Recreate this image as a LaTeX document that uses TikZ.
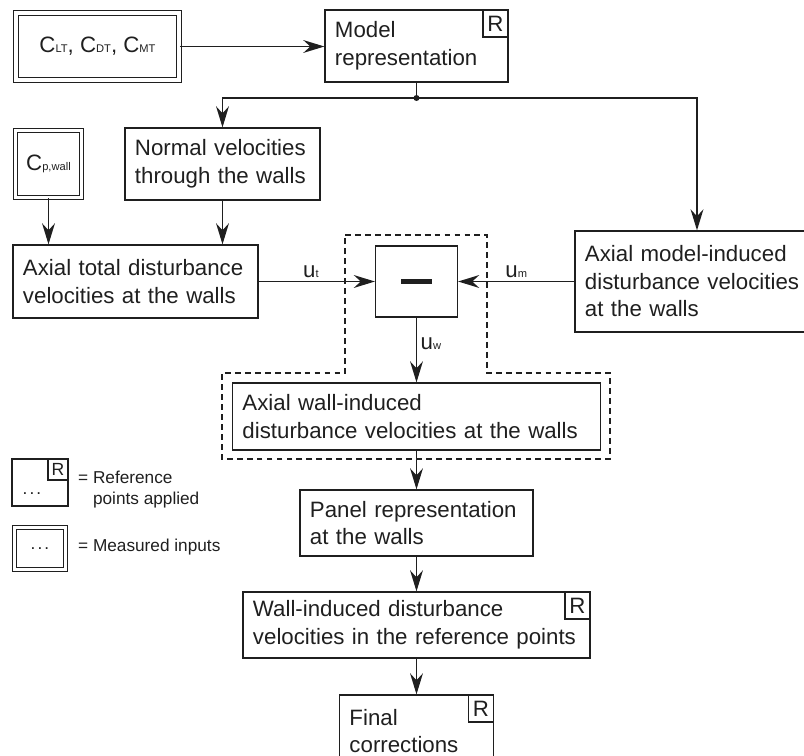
\documentclass[tikz,border=0pt]{standalone}
\usepackage{fontspec}
\setmainfont{Liberation Sans}
\usepackage{tikz}
\usetikzlibrary{positioning,arrows.meta,calc}
\definecolor{ink}{rgb}{0.12,0.12,0.12}
\newcommand{\lo}[1]{{\fontsize{9.5}{9.5}\selectfont #1}}
\newcommand{\legdots}{.\hspace{1.8pt}.\hspace{1.8pt}.}
\tikzset{
  every node/.style={font=\fontsize{19}{23.5}\selectfont, text=ink},
  blk/.style={draw=ink, line width=1.1pt, rectangle, align=left, inner xsep=0.3cm, inner ysep=0.1cm},
  meas/.style={draw=ink, line width=0.95pt, double, double distance=3.1pt, rectangle, inner sep=0pt},
  rbox/.style={draw=ink, line width=1.1pt, minimum width=0.75cm, minimum height=0.81cm, inner sep=0pt, anchor=north east},
  flow/.style={draw=ink, line width=1.1pt, -{Stealth[length=18pt,width=11pt,inset=6pt]}},
  wire/.style={draw=ink, line width=1.1pt},
  grp/.style={draw=ink, line width=1.1pt, dash pattern=on 5pt off 3.5pt},
  legtxt/.style={font=\fontsize{14.7}{18}\selectfont, align=left, anchor=west, inner sep=0pt},
}

\begin{document}
\begin{tikzpicture}[x=0.03cm, y=-0.03cm]
    \useasboundingbox (0,0) rectangle (804,756);
    % inputs
    \node[meas, minimum width=4.905cm, minimum height=2.01cm] (clt) at (97.5,46.5) {C\lo{LT}, C\lo{DT}, C\lo{MT}};
    \node[meas, minimum width=1.98cm, minimum height=2.01cm] (cpw) at (48.5,164) {C\lo{p,wall}};
    % process boxes
    \node[blk, text width=4.89cm, minimum height=2.16cm] (model) at (416.5,46) {Model\\representation};
    \node[rbox] (modelR) at (model.north east) {R};
    \node[blk, text width=5.25cm, minimum height=2.16cm] (normal) at (222.5,164) {Normal velocities\\through the walls};
    \node[blk, text width=6.75cm, minimum height=2.19cm] (total) at (135.5,281.5) {Axial total disturbance\\velocities at the walls};
    \node[blk, minimum width=2.46cm, minimum height=2.13cm] (minus) at (416.5,281.5) {\rule{0.93cm}{4pt}};
    \node[blk, text width=6.72cm, minimum height=3.03cm] (modelind) at (697,281.5) {Axial model-induced\\disturbance velocities\\at the walls};
    \node[blk, text width=10.44cm, minimum height=2.01cm] (wall) at (416.5,416.5) {Axial wall-induced\\disturbance velocities at the walls};
    \node[blk, text width=6.39cm, minimum height=1.98cm] (panel) at (416.5,523) {Panel representation\\at the walls};
    \node[blk, text width=9.81cm, minimum height=1.98cm] (wallref) at (416.5,625) {Wall-induced disturbance\\velocities in the reference points};
    \node[rbox] (wallrefR) at (wallref.north east) {R};
    \node[blk, text width=4.02cm, minimum height=2.16cm] (final) at (416.5,731) {Final\\corrections};
    \node[rbox] (finalR) at (final.north east) {R};

    % dashed group round the subtraction
    \draw[grp] (345,235) -- (487,235) -- (487,373) -- (610,373) -- (610,459)
        -- (222,459) -- (222,373) -- (345,373) -- cycle;

    % connectors
    \coordinate (split) at (416.5,98);
    \draw[flow] (clt.east) -- (clt.east -| model.west);
    \draw[wire] (model.south) -- (split);
    \fill[ink] (split) circle (3);
    \draw[flow] (split) -| (normal.north);
    \draw[flow] (split) -| (modelind.north);
    \draw[flow] (cpw.south) -- (cpw.south |- total.north);
    \draw[flow] (normal.south) -- (normal.south |- total.north);
    \draw[flow] (total.east) -- node[above=3pt, pos=0.45, inner sep=0pt] (ut) {u\lo{t}} (minus.west);
    \draw[flow] (modelind.west) -- node[above=3pt, inner sep=0pt] (um) {u\lo{m}} (minus.east);
    \draw[flow] (minus.south) -- node[right=3pt, pos=0.4, inner sep=0pt] (uw) {u\lo{w}} (wall.north);
    \draw[flow] (wall.south) -- (panel.north);
    \draw[flow] (panel.south) -- (wallref.north);
    \draw[flow] (wallref.south) -- (final.north);

    % legend
    \node[draw=ink, line width=1.1pt, minimum width=1.68cm, minimum height=1.41cm] (legref) at (40,482.5) {};
    \node[rbox, minimum width=0.6cm, minimum height=0.63cm, font=\fontsize{15}{15}\selectfont] (legrefR) at (legref.north east) {R};
    \node[font=\fontsize{14.7}{18}\selectfont, inner sep=0pt] (legdotsA) at (32,494) {\legdots};
    \node[legtxt] (legreftxt) at (78,490) {= Reference\\\phantom{= }points applied};
    \node[meas, minimum width=1.53cm, minimum height=1.26cm, font=\fontsize{14.7}{18}\selectfont] (legmeas) at (40,548.5) {\legdots};
    \node[legtxt] (legmeastxt) at (78,547) {= Measured inputs};
\end{tikzpicture}
\end{document}
